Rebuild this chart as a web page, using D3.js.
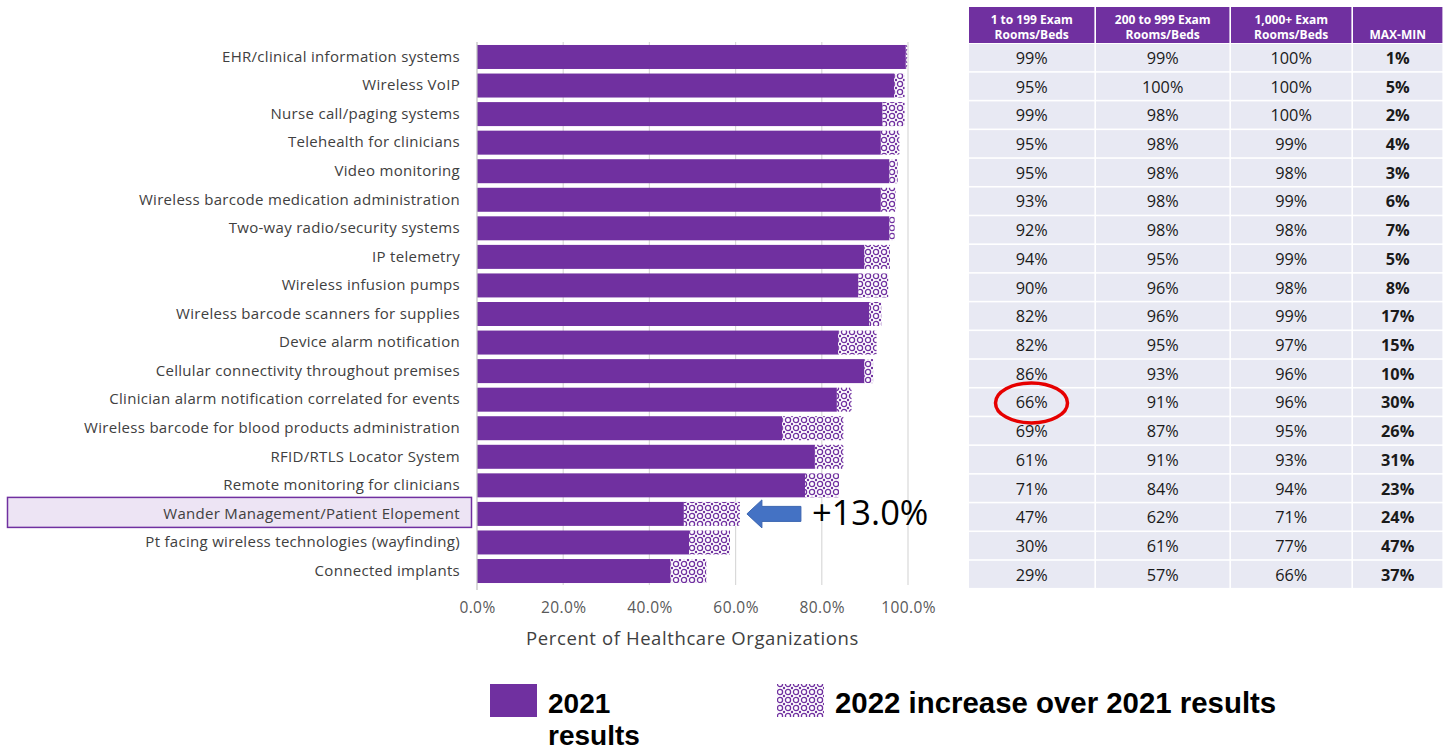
<!DOCTYPE html>
<html>
<head>
<meta charset="utf-8">
<script src="https://cdn.jsdelivr.net/npm/d3@7"></script>
<style>
  html, body { margin: 0; padding: 0; background: #ffffff; }
  svg { display: block; }
</style>
</head>
<body>
<svg id="chart" width="1448" height="751"></svg>
<script>
// Wireless technology adoption by healthcare organizations
const categories = [
  "EHR/clinical information systems",
  "Wireless VoIP",
  "Nurse call/paging systems",
  "Telehealth for clinicians",
  "Video monitoring",
  "Wireless barcode medication administration",
  "Two-way radio/security systems",
  "IP telemetry",
  "Wireless infusion pumps",
  "Wireless barcode scanners for supplies",
  "Device alarm notification",
  "Cellular connectivity throughout premises",
  "Clinician alarm notification correlated for events",
  "Wireless barcode for blood products administration",
  "RFID/RTLS Locator System",
  "Remote monitoring for clinicians",
  "Wander Management/Patient Elopement",
  "Pt facing wireless technologies (wayfinding)",
  "Connected implants"
];

// 2021 share (%) and the 2022 increase on top of it (percentage points)
const results2021 = [99.5, 96.8, 94.1, 93.7, 95.7, 93.7, 95.7, 89.9, 88.5, 91.0,
                     83.8, 89.9, 83.5, 70.8, 78.4, 76.1, 48.0, 49.2, 44.9];
const increase2022 = [0.3, 2.4, 5.1, 4.3, 1.9, 3.4, 1.2, 5.9, 6.9, 2.8,
                      8.9, 2.0, 3.4, 14.2, 6.6, 7.9, 13.0, 9.5, 8.3];

const xTicks = [0, 20, 40, 60, 80, 100];

// Table: adoption by organization size
const tableHeaders = [
  ["1 to 199 Exam", "Rooms/Beds"],
  ["200 to 999 Exam", "Rooms/Beds"],
  ["1,000+ Exam", "Rooms/Beds"],
  ["MAX-MIN"]
];
const smallOrgs  = [99, 95, 99, 95, 95, 93, 92, 94, 90, 82, 82, 86, 66, 69, 61, 71, 47, 30, 29];
const midOrgs    = [99, 100, 98, 98, 98, 98, 98, 95, 96, 96, 95, 93, 91, 87, 91, 84, 62, 61, 57];
const largeOrgs  = [100, 100, 100, 99, 98, 99, 98, 99, 98, 99, 97, 96, 96, 95, 93, 94, 71, 77, 66];
const maxMinGap  = [1, 5, 2, 4, 3, 6, 7, 5, 8, 17, 15, 10, 30, 26, 31, 23, 24, 47, 37];

const highlightCategory = "Wander Management/Patient Elopement";
const highlightLabel = "+13.0%";
const circledRow = 12;   // "Clinician alarm notification correlated for events", small orgs

const legendLabels = ["2021", "results", "2022 increase over 2021 results"];
const axisTitle = "Percent of Healthcare Organizations";

// ---------------------------------------------------------------
const PURPLE = "#7030a0";
const svg = d3.select("#chart");
const defs = svg.append("defs");

// Confetti-like pattern for the 2022 increase
const pat = defs.append("pattern")
  .attr("id", "incPattern")
  .attr("patternUnits", "userSpaceOnUse")
  .attr("width", 8).attr("height", 8);
pat.append("rect").attr("width", 8).attr("height", 8).attr("fill", "#ffffff");
pat.append("circle").attr("cx", 4).attr("cy", 4).attr("r", 2.6)
  .attr("fill", "none").attr("stroke", PURPLE).attr("stroke-width", 1.3);
[[0, 0], [8, 0], [0, 8], [8, 8]].forEach(([cx, cy]) => {
  pat.append("circle").attr("cx", cx).attr("cy", cy).attr("r", 1.2).attr("fill", PURPLE);
});

const x = d3.scaleLinear().domain([0, 100]).range([477, 908]);
const y = d3.scaleBand().domain(categories).range([42.7, 585.3])
  .paddingInner(0.16).paddingOuter(0.08);

// Highlight box behind the emphasized category label
const hy = y(highlightCategory) + y.bandwidth() / 2;
svg.append("rect")
  .attr("x", 7.5).attr("y", hy - 16.5)
  .attr("width", 464).attr("height", 30)
  .attr("fill", "#ede4f4").attr("stroke", PURPLE).attr("stroke-width", 1.5);

// Vertical gridlines
const grid = svg.append("g");
grid.selectAll("line").data(xTicks.slice(1)).join("line")
  .attr("x1", d => x(d)).attr("x2", d => x(d))
  .attr("y1", 42).attr("y2", 585)
  .attr("stroke", "#d9d9d9").attr("stroke-width", 1.2);

// Bars
const rows = categories.map((c, i) => ({ c, base: results2021[i], inc: increase2022[i] }));
svg.append("g").selectAll("rect").data(rows).join("rect")
  .attr("x", x(0))
  .attr("y", d => y(d.c))
  .attr("width", d => x(d.base) - x(0))
  .attr("height", y.bandwidth())
  .attr("fill", PURPLE);
svg.append("g").selectAll("rect").data(rows).join("rect")
  .attr("x", d => x(d.base))
  .attr("y", d => y(d.c))
  .attr("width", d => x(d.base + d.inc) - x(d.base))
  .attr("height", y.bandwidth())
  .attr("fill", "url(#incPattern)");

// Category axis
const yAxis = svg.append("g")
  .attr("transform", `translate(${x(0)},0)`)
  .call(d3.axisLeft(y).tickSize(0).tickPadding(17));
yAxis.select(".domain").remove();
yAxis.selectAll("text")
  .attr("font-family", "'Open Sans', sans-serif")
  .attr("font-size", 15)
  .attr("letter-spacing", 0.3)
  .attr("fill", "#404040");
svg.append("line")
  .attr("x1", x(0)).attr("x2", x(0)).attr("y1", 42).attr("y2", 590)
  .attr("stroke", "#bfbfbf").attr("stroke-width", 1.2);

// Value axis
const xAxis = svg.append("g")
  .attr("transform", "translate(0,585)")
  .call(d3.axisBottom(x).tickValues(xTicks).tickSize(0).tickPadding(17)
    .tickFormat(d => d3.format(".1f")(d) + "%"));
xAxis.select(".domain").remove();
xAxis.selectAll("text")
  .attr("font-family", "'Open Sans', sans-serif")
  .attr("font-size", 15.5)
  .attr("letter-spacing", 0.4)
  .attr("fill", "#595959");

svg.append("text")
  .attr("x", (x(0) + x(100)) / 2).attr("y", 645)
  .attr("text-anchor", "middle")
  .attr("font-family", "'Open Sans', sans-serif")
  .attr("font-size", 18.5)
  .attr("letter-spacing", 0.6)
  .attr("fill", "#404040")
  .text(axisTitle);

// Arrow and increase callout for the highlighted category
const hi = categories.indexOf(highlightCategory);
const ax0 = x(results2021[hi] + increase2022[hi]) + 7;
const ax1 = ax0 + 54;
const arrow = d3.path();
arrow.moveTo(ax0, hy);
arrow.lineTo(ax0 + 15, hy - 14);
arrow.lineTo(ax0 + 15, hy - 7.5);
arrow.lineTo(ax1, hy - 7.5);
arrow.lineTo(ax1, hy + 7.5);
arrow.lineTo(ax0 + 15, hy + 7.5);
arrow.lineTo(ax0 + 15, hy + 14);
arrow.closePath();
svg.append("path").attr("d", arrow.toString())
  .attr("fill", "#4472c4").attr("stroke", "#3b65b0").attr("stroke-width", 1);
svg.append("text")
  .attr("x", ax1 + 11).attr("y", hy + 11.5)
  .attr("font-family", "'Open Sans', sans-serif")
  .attr("font-size", 34.5)
  .attr("fill", "#000000")
  .text(highlightLabel);

// ---------------------------------------------------------------
// Table by organization size
const colEdges = [969, 1096, 1231, 1353, 1444];
const tableCols = [smallOrgs, midOrgs, largeOrgs, maxMinGap];
const ty = d3.scaleBand().domain(d3.range(categories.length)).range([44, 589.5]);
const gap = 1.6;

const head = svg.append("g");
tableHeaders.forEach((lines, j) => {
  const x0 = colEdges[j], x1 = colEdges[j + 1] - gap;
  head.append("rect").attr("x", x0).attr("y", 7).attr("width", x1 - x0).attr("height", 36)
    .attr("fill", PURPLE);
  const t = head.append("text")
    .attr("x", (x0 + x1) / 2)
    .attr("text-anchor", "middle")
    .attr("font-family", "'Open Sans', sans-serif")
    .attr("font-weight", "bold")
    .attr("font-size", 12)
    .attr("fill", "#ffffff");
  if (lines.length === 2) {
    t.append("tspan").attr("x", (x0 + x1) / 2).attr("y", 24).text(lines[0]);
    t.append("tspan").attr("x", (x0 + x1) / 2).attr("y", 39).text(lines[1]);
  } else {
    t.attr("y", 39).text(lines[0]);
  }
});

const body = svg.append("g");
tableCols.forEach((vals, j) => {
  const x0 = colEdges[j], x1 = colEdges[j + 1] - gap;
  const col = body.append("g");
  col.selectAll("rect").data(vals).join("rect")
    .attr("x", x0).attr("y", (d, i) => ty(i))
    .attr("width", x1 - x0).attr("height", ty.bandwidth() - gap)
    .attr("fill", "#e8e9f3");
  col.selectAll("text").data(vals).join("text")
    .attr("x", (x0 + x1) / 2)
    .attr("y", (d, i) => ty(i) + ty.bandwidth() / 2 + 5.5)
    .attr("text-anchor", "middle")
    .attr("font-family", "'Open Sans', sans-serif")
    .attr("font-size", 16.3)
    .attr("font-weight", j === 3 ? "bold" : "normal")
    .attr("fill", "#1a1a1a")
    .text(d => d + "%");
});

// Red ring around the small-organization value for clinician alarm notification
svg.append("ellipse")
  .attr("cx", (colEdges[0] + colEdges[1]) / 2 - 1)
  .attr("cy", ty(circledRow) + ty.bandwidth() / 2)
  .attr("rx", 36).attr("ry", 20)
  .attr("fill", "none").attr("stroke", "#e60000").attr("stroke-width", 3.5);

// ---------------------------------------------------------------
// Legend
const lg = svg.append("g");
lg.append("rect").attr("x", 490).attr("y", 684).attr("width", 47).attr("height", 33).attr("fill", PURPLE);
lg.append("rect").attr("x", 777).attr("y", 684).attr("width", 47).attr("height", 33).attr("fill", "url(#incPattern)");
const legendFont = "'Liberation Sans', Arial, sans-serif";
lg.append("text").attr("x", 548).attr("y", 713)
  .attr("font-family", legendFont).attr("font-weight", "bold").attr("font-size", 28)
  .attr("fill", "#000").text(legendLabels[0]);
lg.append("text").attr("x", 548).attr("y", 745)
  .attr("font-family", legendFont).attr("font-weight", "bold").attr("font-size", 28)
  .attr("fill", "#000").text(legendLabels[1]);
lg.append("text").attr("x", 835).attr("y", 713)
  .attr("font-family", legendFont).attr("font-weight", "bold").attr("font-size", 29.4)
  .attr("fill", "#000").text(legendLabels[2]);
</script>
</body>
</html>
